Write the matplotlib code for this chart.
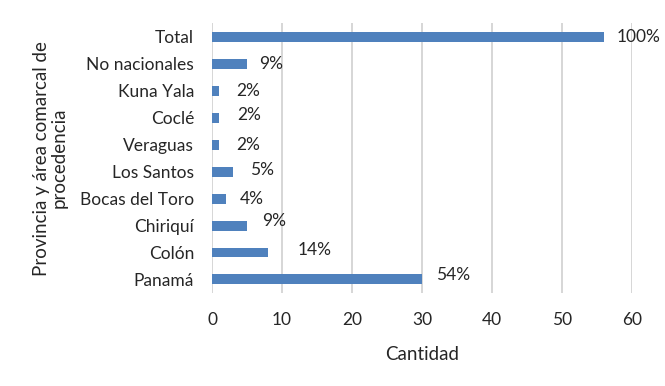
import matplotlib.pyplot as plt

# data, bottom to top as drawn
categories = ["Panamá", "Colón", "Chiriquí", "Bocas del Toro", "Los Santos",
              "Veraguas", "Coclé", "Kuna Yala", "No nacionales", "Total"]
counts = [30, 8, 5, 2, 3, 1, 1, 1, 5, 56]
pct_labels = ["54%", "14%", "9%", "4%", "5%", "2%", "2%", "2%", "9%", "100%"]

BAR_COLOR = "#4f81bd"
GRID_COLOR = "#d0d0d0"
TEXT_COLOR = "#262626"

plt.rcParams["font.family"] = ["Lato", "DejaVu Sans"]

fig = plt.figure(figsize=(6.65, 3.86), dpi=100)
ax = fig.add_axes([0.319, 0.241, 0.631, 0.699])

y = range(len(categories))
ax.barh(y, counts, height=0.37, color=BAR_COLOR, zorder=3)

# label offsets in points (x, y), mimicking the original placement
offsets = [(10, 3), (21, 2), (11, 3), (10, 0), (12, 1),
           (12, 0), (13, 2), (12, 0), (9, 0), (9, 0)]
for yi, v, lab, (dx, dy) in zip(y, counts, pct_labels, offsets):
    ax.annotate(lab, (v, yi), xytext=(dx, dy), textcoords="offset points",
                va="center", ha="left", fontsize=12.5, color=TEXT_COLOR)

ax.set_xlim(0, 60)
ax.set_ylim(-0.5, len(categories) - 0.5)
ax.set_xticks(range(0, 61, 10))
ax.set_yticks(list(y))
ax.set_yticklabels(categories)
ax.tick_params(axis="both", length=0, labelsize=12.5, colors=TEXT_COLOR)
ax.tick_params(axis="y", pad=13)
ax.tick_params(axis="x", pad=14)

ax.grid(axis="x", color=GRID_COLOR, linewidth=1.2, zorder=0)
for s in ax.spines.values():
    s.set_visible(False)

ax.set_xlabel("Cantidad", fontsize=13.5, color=TEXT_COLOR, labelpad=13)
ax.set_ylabel("Provincia y área comarcal de\nprocedencia", fontsize=13.5,
              color=TEXT_COLOR, labelpad=9, linespacing=1.0)

fig.savefig("out.png", dpi=100)
